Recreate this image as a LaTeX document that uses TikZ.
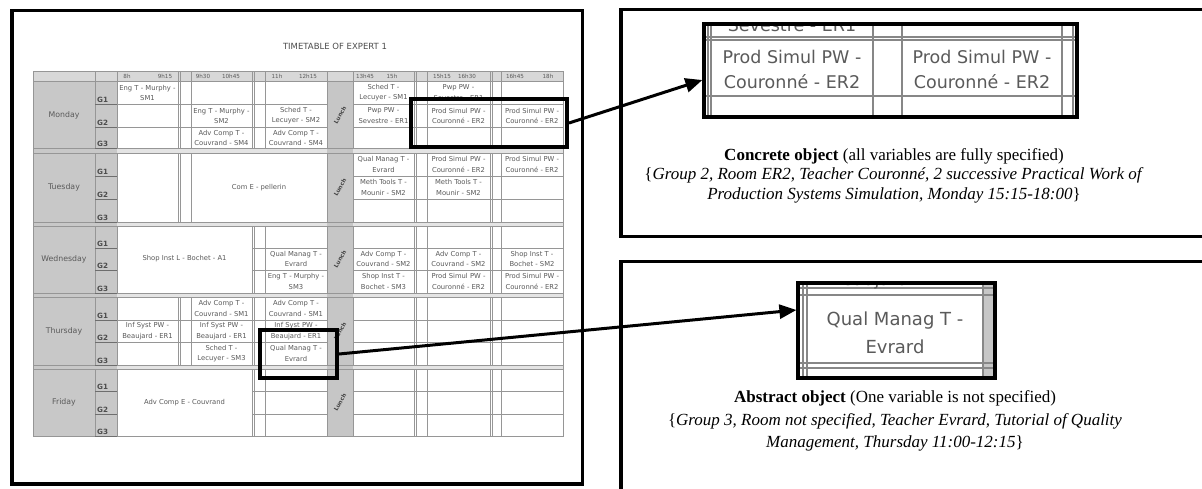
\documentclass[tikz,border=0pt]{standalone}
\usepackage{fontspec}
\setmainfont{Liberation Serif}
\newfontfamily\cellfont{DejaVu Sans}
\usetikzlibrary{arrows.meta}
\definecolor{gridgray}{RGB}{150,150,150}
\definecolor{griddark}{RGB}{110,110,110}
\definecolor{cellink}{RGB}{90,90,90}
\definecolor{headfill}{RGB}{216,216,216}
\definecolor{sidefill}{RGB}{200,200,200}
\definecolor{lunchfill}{RGB}{198,198,198}
\definecolor{bandfill}{RGB}{228,228,228}
\begin{document}
\begin{tikzpicture}[x=1pt,y=-1pt,
  grid/.style={draw=gridgray, line width=0.7pt},
  grpline/.style={draw=griddark, line width=1pt},
  cell/.style={font=\cellfont\fontsize{6.8}{10.5}\selectfont, text=cellink, align=center, inner sep=0pt},
  head/.style={font=\cellfont\fontsize{5.6}{6}\selectfont, text=cellink, inner sep=0pt},
  grp/.style={font=\cellfont\bfseries\fontsize{7.2}{8}\selectfont, text=black!70, inner sep=0pt, anchor=base west},
  day/.style={font=\cellfont\fontsize{7.8}{9}\selectfont, text=cellink, inner sep=0pt},
  lunch/.style={font=\cellfont\bfseries\fontsize{5.6}{6}\selectfont, text=black!75, rotate=60, inner sep=0pt},
  frame/.style={draw=black, line width=3.5pt},
  hilite/.style={draw=black, line width=4pt, inner sep=0pt},
  zoomframe/.style={draw=black, line width=3.2pt, inner sep=0pt},
  zgrid/.style={draw=gridgray!90!black, line width=1.3pt},
  zoomcell/.style={font=\cellfont\fontsize{17.5}{25}\selectfont, text=cellink, align=center, inner sep=0pt},
  captionA/.style={align=center, inner sep=0pt, font=\fontsize{17}{19.4}\selectfont},
  captionB/.style={align=center, inner sep=0pt, font=\fontsize{17}{22.2}\selectfont},
  pointer/.style={draw=black, line width=3pt, -{Triangle[length=17pt,width=14pt]}},
]
\useasboundingbox (0,0) rectangle (1202,488);
\fill[white] (0,0) rectangle (1202,488);

%% ---------------- timetable ----------------
\node[font=\cellfont\fontsize{8.5}{9}\selectfont, text=black!70] (title) at (335,46) {TIMETABLE OF EXPERT 1};

% fills
\fill[headfill] (33,71) rectangle (563,81);
\fill[sidefill] (33,81) rectangle (117,436);
\fill[lunchfill] (327,81) rectangle (353,436);
\foreach \a/\b in {148.5/153, 222/226, 293/297, 365/369}{
  \fill[bandfill] (117,\a) rectangle (327,\b);
  \fill[bandfill] (353,\a) rectangle (563,\b);
}

% vertical rules, header row
\foreach \x in {95,117,178,180.5,191,252,254.5,265,327,353,414,416.5,427,490,492.5,501}
  \draw[grid] (\x,71) -- (\x,81);
% vertical rules per day block
\foreach \t/\b/\xs in {
  81/148.5/{95,117,178,180.5,191,252,254.5,265,327,353,414,416.5,427,490,492.5,501},
  153/222/{95,117,178,180.5,191,327,353,414,416.5,427,490,492.5,501},
  226/293/{95,117,252,254.5,265,327,353,414,416.5,427,490,492.5,501},
  297/365/{95,117,178,180.5,191,252,254.5,265,327,353,414,416.5,427,490,492.5,501},
  369/436/{95,117,252,254.5,265,327,353,414,416.5,427,490,492.5,501}}{
  \foreach \x in \xs \draw[grid] (\x,\t) -- (\x,\b);
}
% separators between day blocks
\foreach \a/\b in {148.5/153, 222/226, 293/297, 365/369}{
  \draw[grid] (33,\a) -- (563,\a);
  \draw[grid] (33,\b) -- (563,\b);
}
% row rules inside the blocks
\foreach \y in {104.5,127,320,342} {
  \draw[grid] (117,\y) -- (327,\y);
  \draw[grid] (353,\y) -- (563,\y);
}
\foreach \y in {176,199} \draw[grid] (353,\y) -- (563,\y);
\foreach \y in {248,270,391,414} {
  \draw[grid] (252,\y) -- (327,\y);
  \draw[grid] (353,\y) -- (563,\y);
}
\draw[grid] (33,81) -- (563,81);
\draw[grid] (33,71) rectangle (563,436);

% group cells
\foreach \y in {104.5,127,148.5,176,199,222,248,270,293,320,342,365,391,414,436}
  \draw[grpline] (95,\y) -- (117,\y);
\foreach \y/\g in {102/G1,125/G2,146.5/G3,174/G1,197/G2,220/G3,246/G1,268/G2,291/G3,318/G1,340/G2,363/G3,389/G1,412/G2,434/G3}
  \node[grp] at (97,\y) {\g};

% day names
\foreach \y/\d in {115/Monday,187.5/Tuesday,259/Wednesday,331/Thursday,402.5/Friday}
  \node[day] at (64,\y) {\d};

% header times
\foreach \x/\h in {127/8h,165/9h15,203/9h30,231/10h45,277/11h,308/12h15,365/13h45,392/15h,442/15h15,467/16h30,515/16h45,548/18h}
  \node[head] at (\x,76) {\h};

% lunch column
\foreach \y in {115,187.5,259,331,402.5}
  \node[lunch] at (340,\y) {Lunch};

% lessons
\node[cell] at (147.5,92.75) {Eng T - Murphy -\\SM1};
\node[cell] at (221.5,115.75) {Eng T - Murphy -\\SM2};
\node[cell] at (296,115.75) {Sched T -\\Lecuyer - SM2};
\node[cell] at (221.5,137.75) {Adv Comp T -\\Couvrand - SM4};
\node[cell] at (296,137.75) {Adv Comp T -\\Couvrand - SM4};
\node[cell] at (383.5,92.75) {Sched T -\\Lecuyer - SM1};
\node[cell] at (458.5,92.75) {Pwp PW -\\Sevestre - ER1};
\node[cell] at (383.5,115.75) {Pwp PW -\\Sevestre - ER1};
\node[cell] at (458.5,115.75) {Prod Simul PW -\\Couronné - ER2};
\node[cell] at (532,115.75) {Prod Simul PW -\\Couronné - ER2};

\node[cell] at (259,187.5) {Com E - pellerin};
\node[cell] at (383.5,164.5) {Qual Manag T -\\Evrard};
\node[cell] at (458.5,164.5) {Prod Simul PW -\\Couronné - ER2};
\node[cell] at (532,164.5) {Prod Simul PW -\\Couronné - ER2};
\node[cell] at (383.5,187.5) {Meth Tools T -\\Mounir - SM2};
\node[cell] at (458.5,187.5) {Meth Tools T -\\Mounir - SM2};

\node[cell] at (184.5,259) {Shop Inst L - Bochet - A1};
\node[cell] at (296,259) {Qual Manag T -\\Evrard};
\node[cell] at (296,281.5) {Eng T - Murphy -\\SM3};
\node[cell] at (383.5,259) {Adv Comp T -\\Couvrand - SM2};
\node[cell] at (383.5,281.5) {Shop Inst T -\\Bochet - SM3};
\node[cell] at (458.5,259) {Adv Comp T -\\Couvrand - SM2};
\node[cell] at (458.5,281.5) {Prod Simul PW -\\Couronné - ER2};
\node[cell] at (532,259) {Shop Inst T -\\Bochet - SM2};
\node[cell] at (532,281.5) {Prod Simul PW -\\Couronné - ER2};

\node[cell] at (147.5,331) {Inf Syst PW -\\Beaujard - ER1};
\node[cell] at (221.5,308.5) {Adv Comp T -\\Couvrand - SM1};
\node[cell] at (221.5,331) {Inf Syst PW -\\Beaujard - ER1};
\node[cell] at (221.5,353.5) {Sched T -\\Lecuyer - SM3};
\node[cell] at (296,308.5) {Adv Comp T -\\Couvrand - SM1};
\node[cell] at (296,331) {Inf Syst PW -\\Beaujard - ER1};
\node[cell] at (296,353.5) {Qual Manag T -\\Evrard};

\node[cell] at (184.5,402.5) {Adv Comp E - Couvrand};

% highlighted sessions
\node[hilite, minimum width=156pt, minimum height=48pt] (boxA) at (489,123) {};
\node[hilite, minimum width=77pt, minimum height=48pt] (boxB) at (298.5,354) {};

% outer frames
\draw[frame] (12,10.5) rectangle (582.5,484);
\draw[frame] (1206,9.5) -- (621,9.5) -- (621,236.5) -- (1206,236.5);
\draw[frame] (1206,261.5) -- (621,261.5) -- (621,492);

%% ---------------- enlarged concrete object ----------------
\begin{scope}
  \clip (704,24) rectangle (1077,117);
  \draw[zgrid] (700,37) -- (1080,37);
  \draw[zgrid] (700,40) -- (1080,40);
  \draw[zgrid] (700,96) -- (1080,96);
  \foreach \x in {708,711,873,902,1062,1073} \draw[zgrid] (\x,20) -- (\x,120);
  \node[zoomcell, anchor=base] at (792,31) {Sevestre - ER1};
  \node[zoomcell] at (792,69) {Prod Simul PW -\\Couronné - ER2};
  \node[zoomcell] at (982,69) {Prod Simul PW -\\Couronné - ER2};
\end{scope}
\node[zoomframe, minimum width=373pt, minimum height=93pt] (zoomA) at (890.5,70.5) {};

\node[captionA] (capA) at (894,175.5) {\textbf{Concrete object} (all variables are fully specified)\\
  \{\textit{Group 2, Room ER2, Teacher Couronné, 2 successive Practical Work of}\\
  \textit{Production Systems Simulation, Monday 15:15-18:00}\}};

%% ---------------- enlarged abstract object ----------------
\begin{scope}
  \clip (798,283) rectangle (995,378);
  \fill[lunchfill] (983,280) rectangle (1000,380);
  \draw[zgrid] (795,288) -- (1000,288);
  \draw[zgrid] (795,295) -- (1000,295);
  \draw[zgrid] (795,363) -- (1000,363);
  \draw[zgrid] (795,368) -- (1000,368);
  \foreach \x in {803,807,983} \draw[zgrid] (\x,280) -- (\x,380);
  \node[zoomcell, anchor=base] at (895,285) {Beaujard - ER1};
  \node[zoomcell, font=\cellfont\fontsize{18}{28}\selectfont] at (895,333) {Qual Manag T -\\Evrard};
\end{scope}
\node[zoomframe, minimum width=197pt, minimum height=95pt] (zoomB) at (896.5,330.5) {};

\node[captionB] (capB) at (895,421) {\textbf{Abstract object} (One variable is not specified)\\
  \{\textit{Group 3, Room not specified, Teacher Evrard, Tutorial of Quality}\\
  \textit{Management, Thursday 11:00-12:15}\}};

%% ---------------- pointers ----------------
\coordinate (tipA) at ([yshift=-9.5pt]zoomA.west);
\coordinate (tipB) at ([yshift=20.5pt]zoomB.west);
\draw[pointer] (boxA.east) -- (tipA);
\draw[pointer] (boxB.east) -- (tipB);
\end{tikzpicture}
\end{document}
